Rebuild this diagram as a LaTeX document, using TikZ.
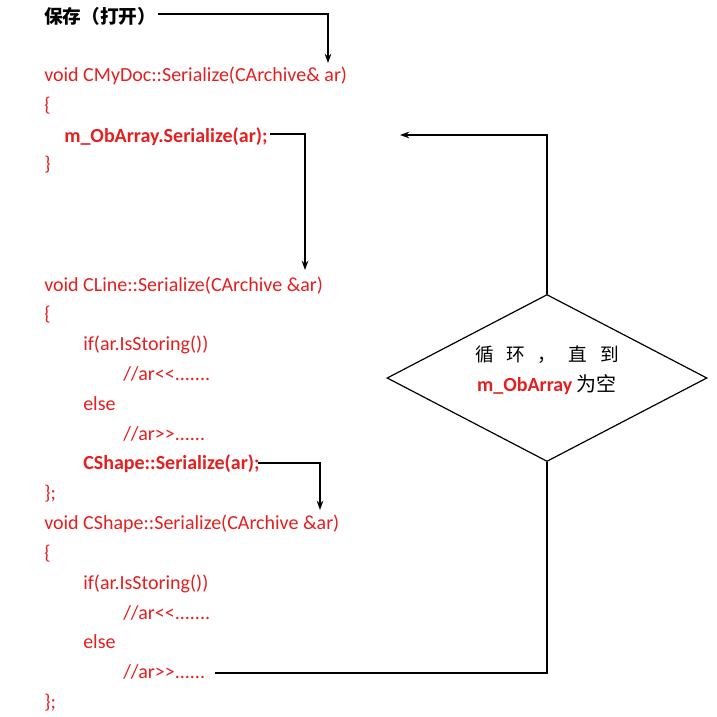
\documentclass[tikz,border=0pt]{standalone}
\usepackage{fontspec}
\setmainfont{Carlito}
\newfontfamily\cjk{Noto Sans CJK SC}
\usetikzlibrary{shapes.geometric,arrows.meta}
\definecolor{codered}{RGB}{230,30,30}
\begin{document}
\begin{tikzpicture}[x=0.75pt,y=-0.75pt,
  code/.style={anchor=base west,inner sep=0pt,text=codered,font=\fontsize{15}{16}\selectfont},
  bcode/.style={code,font=\fontsize{15}{16}\selectfont\bfseries},
  arr/.style={-{Stealth[length=7pt,width=5pt]},line width=0.9pt},
  ln/.style={line width=0.9pt}]
\useasboundingbox (0,0) rectangle (717,717);
\node[anchor=base west,inner sep=0pt,font=\cjk\fontsize{14}{15}\selectfont\bfseries] (save) at (44,24) {保存（打开）};
\node[code] (l1) at (44,82) {void CMyDoc::Serialize(CArchive\& ar)};
\node[code] at (44,112) {\{};
\node[bcode] (l3) at (64,142) {m\_ObArray.Serialize(ar);};
\node[code] at (44,170) {\}};
\node[code] (l5) at (44,291) {void CLine::Serialize(CArchive \&ar)};
\node[code] at (44,320) {\{};
\node[code] at (83,350) {if(ar.IsStoring())};
\node[code] at (123,380) {//ar<{}<.......};
\node[code] at (83,410) {else};
\node[code] at (123,440) {//ar>{}>......};
\node[bcode] (l11) at (83,469) {CShape::Serialize(ar);};
\node[code] at (44,499) {\};};
\node[code] (l13) at (44,529) {void CShape::Serialize(CArchive \&ar)};
\node[code] at (44,559) {\{};
\node[code] at (83,589) {if(ar.IsStoring())};
\node[code] at (123,619) {//ar<{}<.......};
\node[code] at (83,648) {else};
\node[code] (l18) at (123,678) {//ar>{}>......};
\node[code] at (44,708) {\};};
\coordinate (a1) at (158,14);
\coordinate (t1) at (328,63);
\draw[arr] (a1) -| (t1);
\coordinate (a2) at (270,134);
\coordinate (t2) at (305,270);
\draw[arr] (a2) -| (t2);
\coordinate (a3) at (258,463);
\coordinate (t3) at (320,510);
\draw[arr] (a3) -| (t3);
\node[diamond,draw,line width=0.9pt,inner sep=0pt,
  minimum width=240pt,minimum height=125.25pt,aspect=1.9] (d) at (547,378) {};
\node[font=\cjk\fontsize{14}{15}\selectfont] at (547,355) {循\ \ \ 环\ \ \ ，\ \ \ 直\ \ \ 到};
\node[font=\fontsize{15}{16}\selectfont] at (547,385) {\textcolor{codered}{\bfseries m\_ObArray} {\cjk 为空}};
\coordinate (t4) at (400,135);
\draw[arr] (d.north) |- (t4);
\coordinate (a5) at (215,673);
\draw[ln] (a5) -| (d.south);
\end{tikzpicture}
\end{document}
